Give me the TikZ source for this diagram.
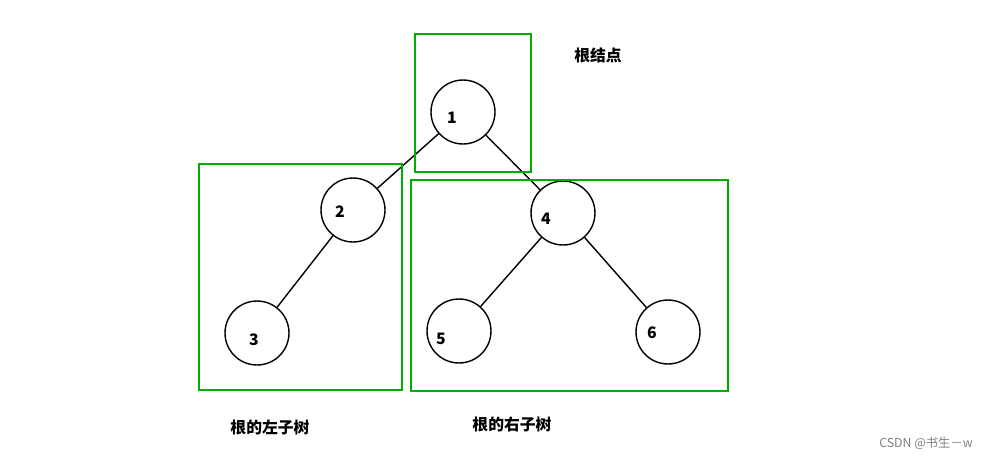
\documentclass[tikz,border=0pt]{standalone}
\usepackage{fontspec}
\setmainfont{Noto Sans CJK SC}
\usetikzlibrary{positioning}

\begin{document}
\begin{tikzpicture}
  [x=0.02cm,y=-0.02cm,
  treenode/.style={circle,draw,thick,minimum size=1.28cm,inner sep=0pt},
  num/.style={font=\bfseries\small},
  subtree/.style={draw=green!60!black!80!green,line width=1.2pt},
  caption/.style={font=\bfseries\small}]
\useasboundingbox (0,0) rectangle (1002,461);

% tree nodes
\node[treenode] (n1) at (463,112) {};
\node[treenode] (n2) at (353,210) {};
\node[treenode] (n3) at (257,333) {};
\node[treenode] (n4) at (563,213) {};
\node[treenode] (n5) at (459,331) {};
\node[treenode] (n6) at (668,332) {};

\node[num] at (452,118) {1};
\node[num] at (340,212) {2};
\node[num] at (254,340) {3};
\node[num] at (546,219) {4};
\node[num] at (441,339) {5};
\node[num] at (652,333) {6};

\draw[thick] (n1) -- (n2);
\draw[thick] (n1) -- (n4);
\draw[thick] (n2) -- (n3);
\draw[thick] (n4) -- (n5);
\draw[thick] (n4) -- (n6);

% sub trees
\draw[subtree] (415,34) rectangle (531,172);
\draw[subtree] (199,164) rectangle (402,390);
\draw[subtree] (411,180) rectangle (728,391);

\node[caption] (root) at (598,55) {根结点};
\node[caption] (left) at (270,428) {根的左子树};
\node[caption] (right) at (512,425) {根的右子树};
\node[font=\scriptsize,text=gray] (mark) at (926,443) {CSDN @书生－w};
\end{tikzpicture}
\end{document}
